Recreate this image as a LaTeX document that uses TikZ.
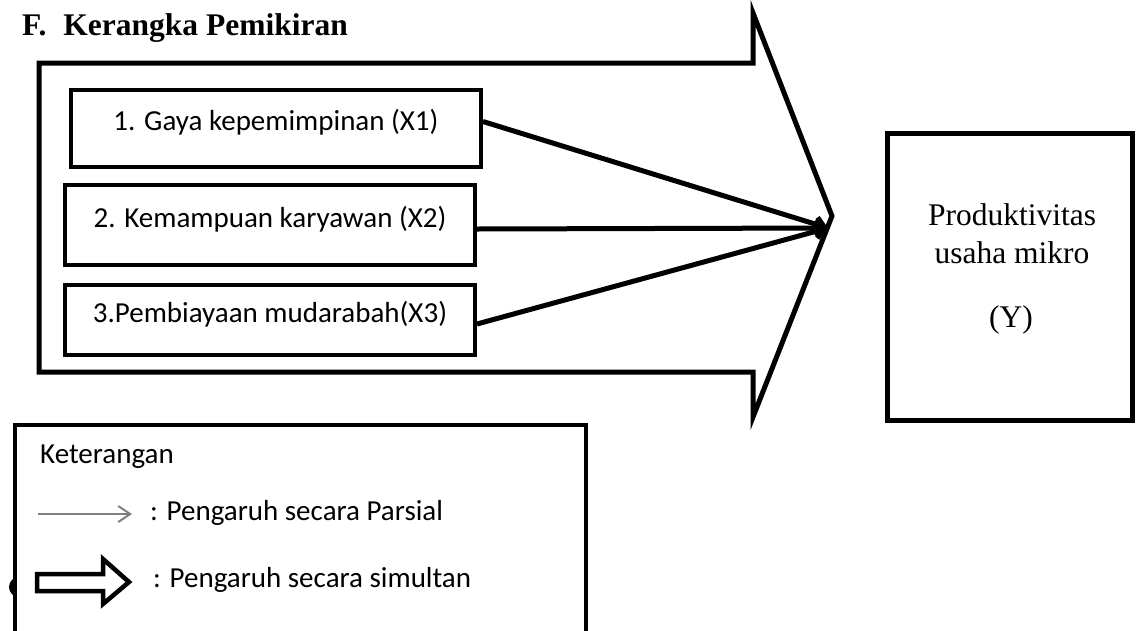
\documentclass[tikz,border=0pt]{standalone}
\usepackage{fontspec}
\setmainfont{Liberation Serif}
\newfontfamily\calibri{Carlito}
\usetikzlibrary{arrows.meta}

\begin{document}
\begin{tikzpicture}[x=1pt,y=-1pt,
    varbox/.style={draw,line width=4pt,minimum width=410pt,inner sep=0pt,
      text height=14pt,text depth=10pt,font=\calibri\fontsize{29}{34}\selectfont},
    link/.style={line width=5pt,-{Straight Barb[length=9pt,width=14pt]}},
    sans/.style={font=\calibri\fontsize{29}{34}\selectfont,inner sep=0pt,anchor=base west},
    serif/.style={font=\fontsize{31.5}{38}\selectfont,inner sep=0pt,anchor=base}]
  \useasboundingbox (0,0) rectangle (1136,630);

  \node[serif,anchor=base west,font=\bfseries\fontsize{31.5}{38}\selectfont] (title) at (22,35)
    {F.\hspace{17pt}Kerangka Pemikiran};

  % simultaneous arrow
  \draw[line width=5pt,miter limit=20] (39,63) -- (753,63) -- (753,13) -- (832,216)
    -- (753,417) -- (753,372) -- (39,372) -- cycle;
  \coordinate (tip) at (828,228);

  \node[varbox,minimum height=77pt] (x1) at (276,128.5) {1. Gaya kepemimpinan (X1)};
  \node[varbox,minimum height=80pt] (x2) at (270,225) {2. Kemampuan karyawan (X2)};
  \node[varbox,minimum height=70pt] (x3) at (270,320) {3.Pembiayaan mudarabah(X3)};

  \draw[link] ([yshift=7pt]x1.east) -- (tip);
  \draw[link] ([yshift=-4pt]x2.east) -- (tip);
  \draw[link] ([yshift=-4pt]x3.east) -- (tip);

  \node[draw,line width=5pt,minimum width=245pt,minimum height=287pt] (yvar) at (1009.5,276.5) {};
  \node[serif] (ylab1) at (1012,225) {Produktivitas};
  \node[serif] (ylab2) at (1012,263) {usaha mikro};
  \node[serif] (ylab3) at (1011,327) {(Y)};

  % legend
  \draw[line width=4.5pt] (15,634) -- (15,425) -- (586,425) -- (586,634);
  \begin{scope}
    \clip (0,570) rectangle (13,605);
    \fill (19,587) circle (10);
  \end{scope}
  \node[sans] (ket) at (40,463) {Keterangan};
  \draw[gray,line width=2pt,-{Straight Barb[length=12pt,width=16pt]}] (38,514) -- (132,514);
  \node[sans] (parsial) at (150,520) {: Pengaruh secara Parsial};
  \draw[line width=4.5pt,miter limit=20] (37,574) -- (103,574) -- (103,559) -- (129,582)
    -- (103,604) -- (103,591) -- (37,591) -- cycle;
  \node[sans] (simultan) at (153,587) {: Pengaruh secara simultan};
\end{tikzpicture}
\end{document}
